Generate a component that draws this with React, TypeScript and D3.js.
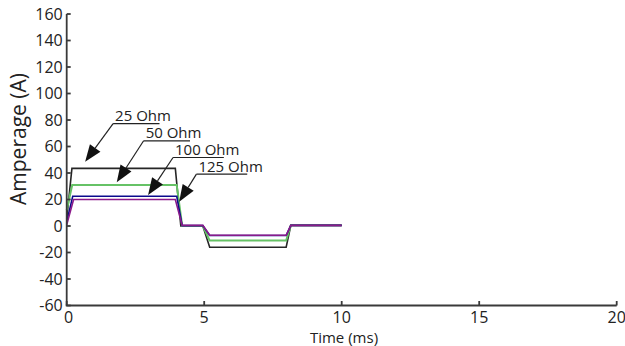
import React from "react";
import * as d3 from "d3";

const xTicks = [0, 5, 10, 15, 20];
const yTicks = [-60, -40, -20, 0, 20, 40, 60, 80, 100, 120, 140, 160];

const seriesNames = ["25 Ohm", "50 Ohm", "100 Ohm", "125 Ohm"];
const seriesColors = ["#262626", "#66c266", "#0a0a8c", "#8a1a8a"];

const timeBlack = [0, 0.19, 3.95, 4.15, 4.95, 5.2, 7.98, 8.15, 10];
const ampBlack = [5, 43.5, 43.5, 0, 0, -16, -16, 0.5, 0.5];
const timeGreen = [0, 0.2, 4.0, 4.2, 4.95, 5.2, 7.98, 8.15, 10];
const ampGreen = [12, 31, 31, 0, 0, -11, -11, 0.5, 0.5];
const timeBlue = [0, 0.22, 4.0, 4.2, 4.95, 5.2, 7.98, 8.15, 10];
const ampBlue = [3, 22.5, 22.5, 0.3, 0.3, -7.2, -7.2, 0.5, 0.5];
const timePurple = [0, 0.25, 3.95, 4.2, 4.95, 5.2, 7.98, 8.15, 10];
const ampPurple = [1, 20, 20, 0.5, 0.5, -7, -7, 0.5, 0.5];

// annotation anchors in data units
const labelT = [1.76, 2.87, 3.94, 4.79];
const labelV = [79.2, 66.2, 53.6, 41];
const arrowT = [0.67, 1.82, 2.96, 4.09];
const arrowV = [48.5, 33, 23.4, 18.3];

const seriesT = [timeBlack, timeGreen, timeBlue, timePurple];
const seriesV = [ampBlack, ampGreen, ampBlue, ampPurple];

const W = 625;
const H = 346;
const FONT = "'Open Sans', 'Noto Sans', sans-serif";
const AXIS = "#3a3a3a";
const TEXT = "#222";

export default function App() {
  const x = d3.scaleLinear().domain([0, 20]).range([66.7, 616.7]);
  const y = d3.scaleLinear().domain([-60, 160]).range([305.5, 14]);

  const line = d3
    .line<[number, number]>()
    .x((d) => x(d[0]))
    .y((d) => y(d[1]));

  const arrow = (i: number) => {
    const x0 = x(labelT[i]) - 2;
    const y0 = y(labelV[i]) + 2.5;
    const x1 = x(arrowT[i]);
    const y1 = y(arrowV[i]);
    const ang = Math.atan2(y1 - y0, x1 - x0);
    const L = 17;
    const Wd = 6.5;
    const bx = x1 - L * Math.cos(ang);
    const by = y1 - L * Math.sin(ang);
    const px = -Math.sin(ang);
    const py = Math.cos(ang);
    const ulen = 20 + seriesNames[i].length * 4.4;
    return (
      <g key={"a" + i}>
        <text
          x={x(labelT[i])}
          y={y(labelV[i])}
          fontFamily={FONT}
          fontSize={15}
          fill={TEXT}
        >
          {seriesNames[i]}
        </text>
        <line x1={x0} y1={y0} x2={x0 + ulen} y2={y0} stroke="#222" strokeWidth={1.2} />
        <line x1={x0} y1={y0} x2={bx} y2={by} stroke="#222" strokeWidth={1.2} />
        <polygon
          points={`${x1},${y1} ${bx + px * Wd},${by + py * Wd} ${bx - px * Wd},${by - py * Wd}`}
          fill="#111"
        />
      </g>
    );
  };

  return (
    <svg
      width={W}
      height={H}
      style={{ position: "absolute", left: 0, top: 0, background: "#fff" }}
    >
      {/* series */}
      {seriesT.map((ts, i) => (
        <path
          key={"s" + i}
          d={line(ts.map((t, j) => [t, seriesV[i][j]] as [number, number])) || ""}
          fill="none"
          stroke={seriesColors[i]}
          strokeWidth={i === 1 ? 2 : 1.6}
          strokeLinejoin="miter"
        />
      ))}

      {/* axes */}
      <line x1={x(0)} y1={y(-60)} x2={x(0)} y2={y(160)} stroke={AXIS} strokeWidth={1.8} />
      <line x1={x(0) - 0.9} y1={y(-60)} x2={x(20)} y2={y(-60)} stroke={AXIS} strokeWidth={1.8} />
      {yTicks.map((v) => (
        <g key={"y" + v}>
          <line x1={x(0)} x2={x(0) + 4} y1={y(v)} y2={y(v)} stroke={AXIS} strokeWidth={1.8} />
          <text
            x={x(0) - 4}
            y={y(v)}
            dy="0.36em"
            textAnchor="end"
            fontFamily={FONT}
            fontSize={16}
            fill={TEXT}
          >
            {v}
          </text>
        </g>
      ))}
      {xTicks.map((t) => (
        <g key={"x" + t}>
          <line x1={x(t)} x2={x(t)} y1={y(-60)} y2={y(-60) - 4.5} stroke={AXIS} strokeWidth={1.8} />
          <text
            x={x(t) + (t === 0 ? 2 : 0)}
            y={322.5}
            textAnchor="middle"
            fontFamily={FONT}
            fontSize={16}
            fill={TEXT}
          >
            {t}
          </text>
        </g>
      ))}
      <text
        x={344}
        y={343}
        textAnchor="middle"
        fontFamily={FONT}
        fontSize={15}
        fill={TEXT}
      >
        Time (ms)
      </text>
      <text
        transform="translate(26,139) rotate(-90)"
        textAnchor="middle"
        fontFamily={FONT}
        fontSize={21}
        fill={TEXT}
      >
        Amperage (A)
      </text>

      {/* annotations */}
      {seriesNames.map((_, i) => arrow(i))}
    </svg>
  );
}
